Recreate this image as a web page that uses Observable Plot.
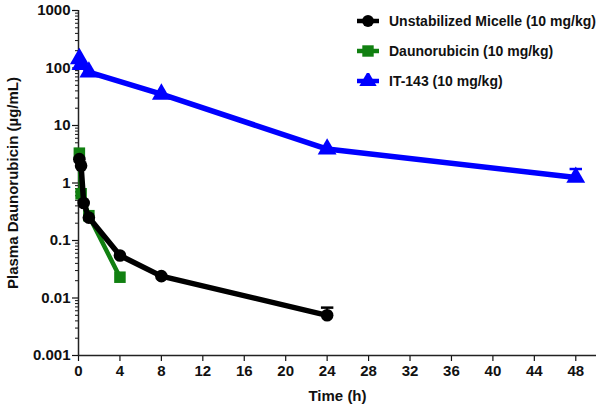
<!DOCTYPE html>
<html><head><meta charset="utf-8">
<script src="https://cdn.jsdelivr.net/npm/d3@7"></script>
<script src="https://cdn.jsdelivr.net/npm/@observablehq/plot@0.6"></script>
<style>
body{margin:0;background:#fff;font-family:"Liberation Sans",Arial,sans-serif;}
#wrap{position:relative;width:600px;height:411px;}
#legend{position:absolute;left:356px;top:6px;font-weight:bold;font-size:14px;color:#111;}
#legend .row{display:flex;align-items:center;height:30px;}
#legend svg{margin-right:9px;}
</style></head>
<body><div id="wrap"><div id="legend"></div></div>
<script>
// Data
const micelleT = [0.083, 0.25, 0.5, 1, 4, 8, 24];
const micelleV = [2.6, 2.0, 0.45, 0.25, 0.055, 0.024, 0.005];
const daunoT = [0.083, 0.25, 1, 4];
const daunoV = [3.3, 0.65, 0.27, 0.023];
const it143T = [0.083, 0.25, 1, 8, 24, 48];
const it143V = [145, 115, 85, 35, 3.9, 1.25];
const errT = [24, 48];
const errV = [0.005, 1.25];
const errHi = [0.0068, 1.75];
const seriesNames = ["Unstabilized Micelle (10 mg/kg)", "Daunorubicin (10 mg/kg)", "IT-143 (10 mg/kg)"];
const seriesColors = ["#000000", "#118011", "#0000ff"];
const seriesSymbols = ["circle", "square", "triangle"];
const xTicks = [0, 4, 8, 12, 16, 20, 24, 28, 32, 36, 40, 44, 48];
const yTicks = [0.001, 0.01, 0.1, 1, 10, 100, 1000];
const yTickLabels = ["0.001", "0.01", "0.1", "1", "10", "100", "1000"];

const mk = (T, V) => T.map((t, i) => ({t, v: V[i]}));
const micelle = mk(micelleT, micelleV);
const dauno = mk(daunoT, daunoV);
const it143 = mk(it143T, it143V);
const errColors = [seriesColors[0], seriesColors[2]];
const errs = errT.map((t, i) => ({t, lo: errV[i], hi: errHi[i], c: errColors[i]}));
const minorTicks = [];
for (let e = -3; e < 3; e++) for (let k = 2; k <= 9; k++) minorTicks.push(k * Math.pow(10, e));

const font = "Liberation Sans, Arial, sans-serif";
const chart = Plot.plot({
  width: 600, height: 411,
  marginLeft: 78, marginRight: 4, marginTop: 10, marginBottom: 56,
  style: {fontFamily: font, fontSize: "15px", fontWeight: "bold", color: "#111", background: "white"},
  x: {type: "linear", domain: [0, 50]},
  y: {type: "log", domain: [0.001, 1000]},
  marks: [
    Plot.axisY(minorTicks, {tickSize: 3, text: null, label: null, strokeWidth: 1}),
    Plot.axisY(yTicks, {tickSize: 6, tickPadding: 2, strokeWidth: 1.2,
      tickFormat: d => yTickLabels[yTicks.indexOf(d)],
      label: "Plasma Daunorubicin (µg/mL)", labelAnchor: "center", labelArrow: "none", labelOffset: 71, fontSize: 15}),
    Plot.axisX(xTicks, {tickSize: 6, tickPadding: 4, strokeWidth: 1.2,
      label: "Time (h)", labelAnchor: "center", labelArrow: "none", labelOffset: 45, fontSize: 15}),
    Plot.ruleX([0], {stroke: "#222", strokeWidth: 1.5}),
    Plot.ruleY([0.001], {stroke: "#222", strokeWidth: 1.5}),
    // error bars
    Plot.link(errs, {x1: "t", x2: "t", y1: "lo", y2: "hi", stroke: "c", strokeWidth: 2}),
    Plot.link(errs, {x1: d => d.t - 0.6, x2: d => d.t + 0.6, y1: "hi", y2: "hi", stroke: "c", strokeWidth: 2.5}),
    // IT-143
    Plot.line(it143, {x: "t", y: "v", stroke: seriesColors[2], strokeWidth: 5.5}),
    Plot.dot(it143, {x: "t", y: "v", fill: seriesColors[2], symbol: "triangle", r: 7}),
    // Daunorubicin
    Plot.line(dauno, {x: "t", y: "v", stroke: seriesColors[1], strokeWidth: 4.5}),
    Plot.dot(dauno, {x: "t", y: "v", fill: seriesColors[1], symbol: "square", r: 6.5}),
    // Micelle
    Plot.line(micelle, {x: "t", y: "v", stroke: seriesColors[0], strokeWidth: 5.5}),
    Plot.dot(micelle, {x: "t", y: "v", fill: seriesColors[0], symbol: "circle", r: 6.3})
  ]
});
document.getElementById("wrap").prepend(chart);

// Legend
const leg = document.getElementById("legend");
seriesNames.forEach((name, i) => {
  const row = document.createElement("div");
  row.className = "row";
  const s = d3.create("svg").attr("width", 24).attr("height", 16);
  s.append("line").attr("x1", 1).attr("x2", 23).attr("y1", 8).attr("y2", 8)
    .attr("stroke", seriesColors[i]).attr("stroke-width", 4.5);
  const sym = {circle: d3.symbolCircle, square: d3.symbolSquare, triangle: d3.symbolTriangle}[seriesSymbols[i]];
  s.append("path").attr("transform", "translate(12,8)")
    .attr("d", d3.symbol(sym, i === 0 ? 110 : 130)()).attr("fill", seriesColors[i]);
  row.appendChild(s.node());
  const t = document.createElement("span");
  t.textContent = name;
  row.appendChild(t);
  leg.appendChild(row);
});
</script></body></html>
